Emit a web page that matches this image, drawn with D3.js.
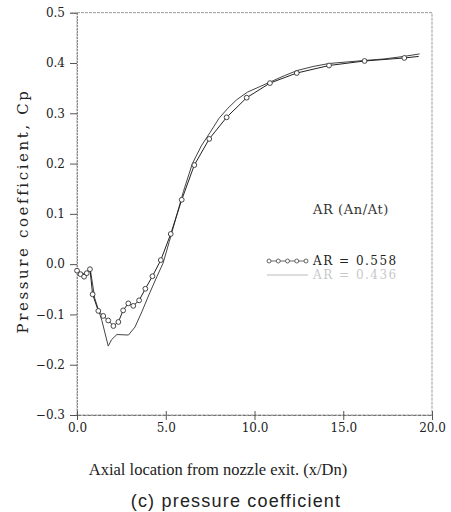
<!DOCTYPE html>
<html>
<head>
  <meta charset="UTF-8">
  <style>
    body { margin: 0; background: #fff; }
    svg { display: block; }
  </style>
</head>
<body>
  <svg id="chart"></svg>
  <script src="https://d3js.org/d3.v7.min.js"></script>
  <script>
    let width = 451, height = 512;

    // AR = 0.558 (open circles)
    var xCirc = [0, 0.2, 0.4, 0.55, 0.73, 0.88, 1.2, 1.48, 1.76, 2.05, 2.33, 2.6, 2.89, 3.17, 3.5, 3.85, 4.25, 4.72, 5.28, 5.9, 6.61, 7.45, 8.43, 9.56, 10.87, 12.38, 14.2, 16.2, 18.44, 19.25];
    var yCirc = [-0.013, -0.02, -0.025, -0.018, -0.01, -0.06, -0.093, -0.103, -0.112, -0.123, -0.115, -0.092, -0.078, -0.083, -0.072, -0.049, -0.024, 0.008, 0.06, 0.128, 0.197, 0.249, 0.292, 0.331, 0.36, 0.38, 0.395, 0.404, 0.41, 0.413];

    // AR = 0.436 (plain line)
    var xPlain = [0, 0.25, 0.5, 0.73, 1.0, 1.4, 1.76, 1.95, 2.25, 2.9, 3.27, 3.65, 4.1, 4.5, 4.85, 5.2, 5.6, 6.0, 6.5, 7.0, 7.5, 8.0, 8.5, 9.0, 9.6, 10.3, 11.0, 11.7, 12.4, 13.3, 14.2, 15.2, 16.2, 17.3, 18.4, 19.3];
    var yPlain = [-0.012, -0.018, -0.02, -0.006, -0.068, -0.112, -0.163, -0.15, -0.14, -0.141, -0.125, -0.095, -0.057, -0.025, 0.002, 0.045, 0.095, 0.145, 0.2, 0.235, 0.262, 0.29, 0.31, 0.327, 0.342, 0.353, 0.364, 0.375, 0.385, 0.393, 0.399, 0.402, 0.405, 0.408, 0.413, 0.418];

    var xTicks = [0, 5, 10, 15, 20];
    var yTicks = [0.5, 0.4, 0.3, 0.2, 0.1, 0.0, -0.1, -0.2, -0.3];
    var legendLabels = ["AR = 0.558", "AR = 0.436"];

    let svg = d3.select("#chart").attr("width", width).attr("height", height);

    var x = d3.scaleLinear().domain([0, 20]).range([77, 432]);
    var y = d3.scaleLinear().domain([-0.3, 0.5]).range([415, 12.7]);

    var serif = "'DejaVu Serif', 'Liberation Serif', serif";
    var fmt = function (d) { return d3.format(".1f")(d).replace("-", "\u2212"); };

    // frame (dotted gray, like a scan)
    svg.append("rect")
      .attr("x", x(0)).attr("y", y(0.5))
      .attr("width", x(20) - x(0)).attr("height", y(-0.3) - y(0.5))
      .attr("fill", "none").attr("stroke", "#999").attr("stroke-width", 1)
      .attr("stroke-dasharray", "3,1");

    // y axis
    let yAxis = svg.append("g")
      .attr("transform", "translate(" + x(0) + ",0)")
      .call(d3.axisLeft(y).tickValues(yTicks).tickFormat(fmt).tickSize(7).tickPadding(5));
    yAxis.select(".domain").attr("stroke", "#888").attr("stroke-dasharray", "2,1");
    yAxis.selectAll(".tick line").attr("stroke", "#555");
    yAxis.selectAll("text").attr("font-family", serif).attr("font-size", 12).attr("fill", "#222");

    // x axis
    let xAxis = svg.append("g")
      .attr("transform", "translate(0," + y(-0.3) + ")")
      .call(d3.axisBottom(x).tickValues(xTicks).tickFormat(fmt).tickSizeInner(5).tickSizeOuter(0).tickPadding(3));
    xAxis.select(".domain").attr("stroke", "#777").attr("stroke-dasharray", "4,1");
    xAxis.selectAll(".tick line").attr("y1", -4).attr("stroke", "#555");
    xAxis.selectAll("text").attr("font-family", serif).attr("font-size", 12).attr("fill", "#222");

    var line = d3.line().x(d => x(d[0])).y(d => y(d[1]));

    var plainData = xPlain.map((v, i) => [v, yPlain[i]]);
    var circData = xCirc.map((v, i) => [v, yCirc[i]]);

    svg.append("path").datum(plainData)
      .attr("d", line).attr("fill", "none")
      .attr("stroke", "#444").attr("stroke-width", 1);

    svg.append("path").datum(circData)
      .attr("d", line).attr("fill", "none")
      .attr("stroke", "#222").attr("stroke-width", 1);

    // last point is the line end, no marker there
    svg.append("g").selectAll("circle")
      .data(circData.slice(0, circData.length - 1))
      .enter().append("circle")
      .attr("cx", d => x(d[0])).attr("cy", d => y(d[1]))
      .attr("r", 2.4).attr("fill", "#fff")
      .attr("stroke", "#333").attr("stroke-width", 0.9);

    // legend
    svg.append("text").attr("x", 313).attr("y", 214)
      .attr("font-family", serif).attr("font-size", 13).attr("letter-spacing", 0.6).attr("fill", "#333")
      .text("AR (An/At)");

    var lx0 = 267, lx1 = 308;
    svg.append("line").attr("x1", lx0).attr("x2", lx1).attr("y1", 261).attr("y2", 261)
      .attr("stroke", "#444").attr("stroke-width", 0.8);
    svg.append("g").selectAll("circle")
      .data(d3.range(5))
      .enter().append("circle")
      .attr("cx", d => lx0 + 2 + d * (lx1 - lx0 - 4) / 4).attr("cy", 261)
      .attr("r", 2).attr("fill", "#fff").attr("stroke", "#444").attr("stroke-width", 0.8);
    svg.append("line").attr("x1", lx0).attr("x2", lx1).attr("y1", 275).attr("y2", 275)
      .attr("stroke", "#aaa").attr("stroke-width", 0.8);

    svg.selectAll(".leg").data(legendLabels).enter().append("text")
      .attr("x", 313).attr("y", (d, i) => 265 + i * 14)
      .attr("font-family", serif).attr("font-size", 12).attr("letter-spacing", 1.5)
      .attr("fill", (d, i) => i == 0 ? "#222" : "#c8c8c8")
      .text(d => d);

    // axis titles
    svg.append("text")
      .attr("transform", "translate(28,211) rotate(-90)")
      .attr("text-anchor", "middle")
      .attr("font-family", serif).attr("font-size", 15).attr("letter-spacing", 2.6)
      .attr("fill", "#222")
      .text("Pressure coefficient, Cp");

    svg.append("text")
      .attr("x", 218).attr("y", 475).attr("text-anchor", "middle")
      .attr("font-family", "'Liberation Serif', serif").attr("font-size", 16.5).attr("fill", "#222")
      .text("Axial location from nozzle exit. (x/Dn)");

    svg.append("text")
      .attr("x", 236).attr("y", 507).attr("text-anchor", "middle")
      .attr("font-family", "'Liberation Sans', sans-serif").attr("font-size", 18).attr("letter-spacing", 1.2)
      .attr("fill", "#222")
      .text("(c) pressure coefficient");
  </script>
</body>
</html>
